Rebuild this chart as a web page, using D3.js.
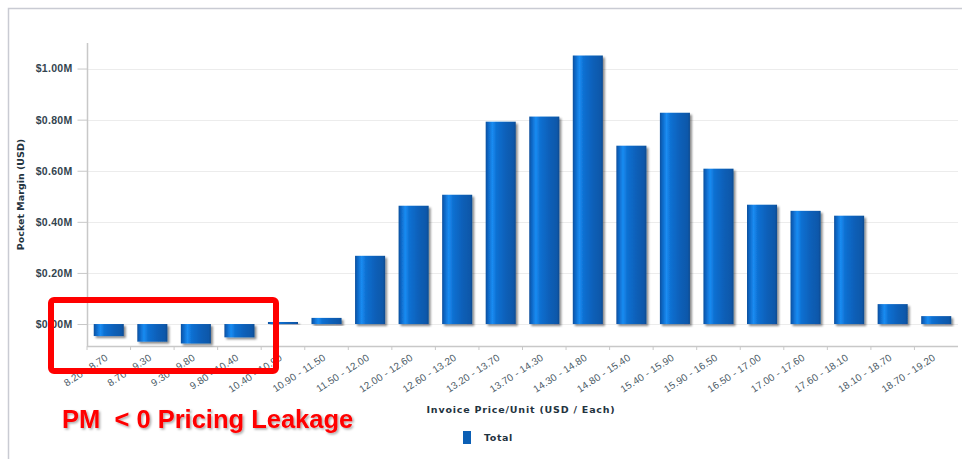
<!DOCTYPE html>
<html>
<head>
<meta charset="utf-8">
<style>
  body { margin: 0; background: #fff; }
  .tick text { fill: #33444f; }
  .y-axis text { font: bold 10.5px "Liberation Sans", Arial, sans-serif; letter-spacing: 0.3px; }
  .x-axis text { font: 10px "Liberation Sans", Arial, sans-serif; fill: #4a5a66; letter-spacing: 0.2px; }
  .axis-title { font: bold 9.5px "DejaVu Sans", Verdana, sans-serif; fill: #1f3340; }
</style>
<script src="https://d3js.org/d3.v7.min.js"></script>
</head>
<body>
<svg width="962" height="459"></svg>
<script>
// price bands (USD / unit)
var categories = ["8.20 - 8.70", "8.70 - 9.30", "9.30 - 9.80", "9.80 - 10.40", "10.40 - 10.90",
  "10.90 - 11.50", "11.50 - 12.00", "12.00 - 12.60", "12.60 - 13.20", "13.20 - 13.70",
  "13.70 - 14.30", "14.30 - 14.80", "14.80 - 15.40", "15.40 - 15.90", "15.90 - 16.50",
  "16.50 - 17.00", "17.00 - 17.60", "17.60 - 18.10", "18.10 - 18.70", "18.70 - 19.20"];
// pocket margin, millions USD
var totals = [-0.047, -0.069, -0.076, -0.052, 0.008, 0.024, 0.267, 0.463, 0.506, 0.792,
  0.812, 1.051, 0.698, 0.827, 0.608, 0.467, 0.443, 0.424, 0.078, 0.031];
var yTicks = [0, 0.2, 0.4, 0.6, 0.8, 1.0];

var svg = d3.select("svg");
var plotLeft = 87, plotRight = 958, plotTop = 43, plotBottom = 346;

var x = d3.scaleBand().domain(categories).range([plotLeft, plotRight]).paddingInner(0.31).paddingOuter(0.155);
var y = d3.scaleLinear().domain([-0.086, 1.10]).range([plotBottom, plotTop]);

var defs = svg.append("defs");
var grad = defs.append("linearGradient").attr("id", "barGrad").attr("x1", "0").attr("x2", "1").attr("y1", "0").attr("y2", "0");
[[0, "#0b4f9c"], [0.08, "#0d66c4"], [0.22, "#1a8cf2"], [0.36, "#0e70d2"], [0.7, "#0a5eb6"], [0.92, "#0a58aa"], [1, "#094a90"]]
  .forEach(function (s) { grad.append("stop").attr("offset", s[0]).attr("stop-color", s[1]); });
var shadow = defs.append("filter").attr("id", "shadow").attr("x", "-20%").attr("y", "-20%").attr("width", "150%").attr("height", "150%");
shadow.append("feDropShadow").attr("dx", 2).attr("dy", 2).attr("stdDeviation", 1.2).attr("flood-color", "#000").attr("flood-opacity", 0.45);
var txtShadow = defs.append("filter").attr("id", "txtShadow").attr("x", "-10%").attr("y", "-30%").attr("width", "130%").attr("height", "170%");
txtShadow.append("feDropShadow").attr("dx", 1.5).attr("dy", 1.5).attr("stdDeviation", 1.2).attr("flood-color", "#000").attr("flood-opacity", 0.35);

// outer frame
svg.append("path").attr("d", "M8.5,459V8.5H962").attr("fill", "none").attr("stroke", "#c9cbd3").attr("stroke-width", 1.5);

// grid
svg.append("g").selectAll("line").data(yTicks).enter().append("line")
  .attr("x1", plotLeft).attr("x2", plotRight)
  .attr("y1", function (d) { return Math.round(y(d)) + 0.5; })
  .attr("y2", function (d) { return Math.round(y(d)) + 0.5; })
  .attr("stroke", "#ececec");

// y axis
var yAxis = svg.append("g").attr("class", "y-axis").attr("transform", "translate(" + (plotLeft + 0.5) + ",0)")
  .call(d3.axisLeft(y).tickValues(yTicks).tickSize(10).tickPadding(5)
    .tickFormat(function (d) { return "$" + d.toFixed(2) + "M"; }));
yAxis.select(".domain").attr("stroke", "#c8c8c8").attr("stroke-width", 1.5).attr("d", "M0," + plotTop + "V" + plotBottom);
yAxis.selectAll(".tick line").attr("stroke", "#c8c8c8");

// x axis
var xAxis = svg.append("g").attr("class", "x-axis").attr("transform", "translate(0," + (plotBottom + 0.5) + ")")
  .call(d3.axisBottom(x).tickSize(0).tickPadding(0));
xAxis.select(".domain").attr("stroke", "#c8c8c8").attr("stroke-width", 1.5).attr("d", "M" + plotLeft + ",0H" + plotRight);
xAxis.selectAll(".tick text")
  .attr("text-anchor", "end")
  .attr("transform", "translate(-2,10) rotate(-33)")
  .attr("dy", "0.35em");
svg.append("g").selectAll("line").data(categories).enter().append("line")
  .attr("x1", function (d) { return x(d) - x.step() * x.paddingInner() / 2; })
  .attr("x2", function (d) { return x(d) - x.step() * x.paddingInner() / 2; })
  .attr("y1", plotBottom).attr("y2", plotBottom + 4)
  .attr("stroke", "#c8c8c8");

// bars
svg.append("g").selectAll("rect").data(totals).enter().append("rect")
  .attr("x", function (d, i) { return x(categories[i]); })
  .attr("width", x.bandwidth())
  .attr("y", function (d) { return y(Math.max(0, d)); })
  .attr("height", function (d) { return Math.max(1.5, Math.abs(y(d) - y(0))); })
  .attr("fill", "url(#barGrad)")
  .attr("filter", "url(#shadow)");

// axis titles
svg.append("text").attr("class", "axis-title")
  .attr("transform", "translate(24," + ((plotTop + plotBottom) / 2) + ") rotate(-90)")
  .attr("text-anchor", "middle").text("Pocket Margin (USD)");
svg.append("text").attr("class", "axis-title").style("letter-spacing", "0.8px")
  .attr("x", 521).attr("y", 413).attr("text-anchor", "middle").text("Invoice Price/Unit (USD / Each)");

// legend
svg.append("rect").attr("x", 463).attr("y", 431).attr("width", 8).attr("height", 13).attr("fill", "#0b5fb5");
svg.append("text").attr("class", "axis-title").style("letter-spacing", "0.6px")
  .attr("x", 484).attr("y", 441).text("Total");

// annotation
svg.append("rect").attr("x", 51).attr("y", 300).attr("width", 225).attr("height", 71).attr("rx", 3)
  .attr("fill", "none").attr("stroke", "#ff0000").attr("stroke-width", 6);
svg.append("text").attr("x", 62).attr("y", 428)
  .attr("fill", "#ff0000").attr("filter", "url(#txtShadow)")
  .style("font", "bold 25.5px 'Liberation Sans', Arial, sans-serif")
  .attr("xml:space", "preserve")
  .text("PM  < 0 Pricing Leakage");
</script>
</body>
</html>
